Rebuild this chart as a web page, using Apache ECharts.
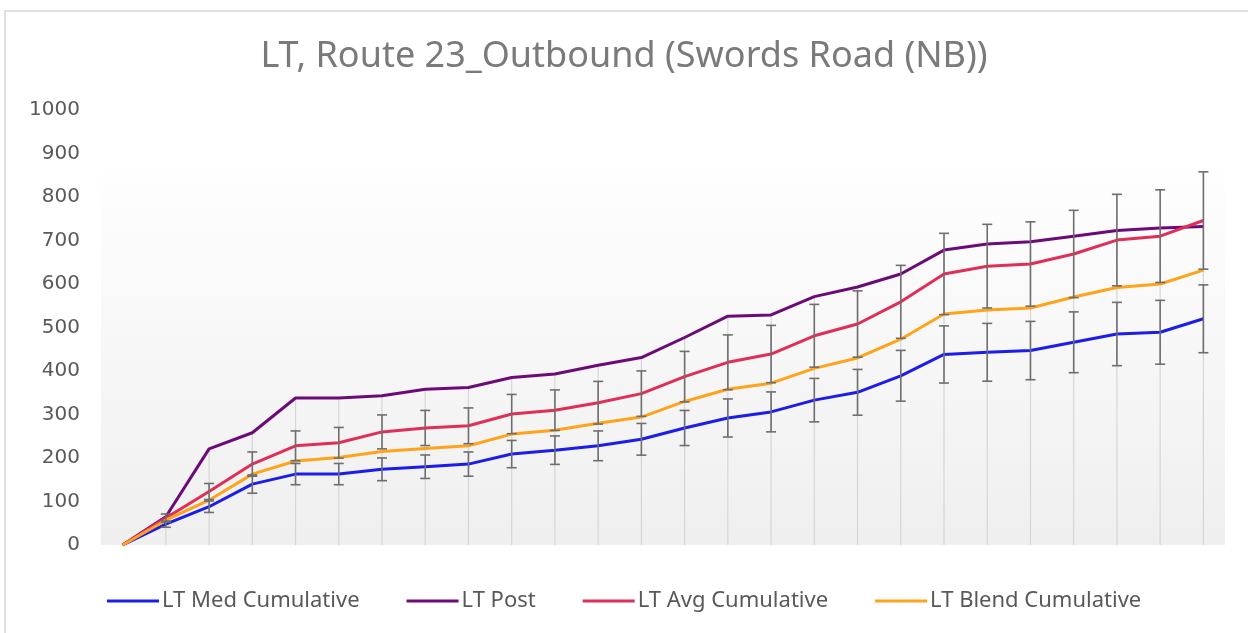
<!DOCTYPE html>
<html>
<head>
<meta charset="utf-8">
<title>LT, Route 23_Outbound</title>
<script src="https://cdn.jsdelivr.net/npm/echarts@6/dist/echarts.min.js"></script>
<style>
    html, body { margin: 0; padding: 0; background: #fff; }
    #chart { width: 1248px; height: 633px; }
</style>
</head>
<body>
<div id="chart"></div>
<script>
// stops along the route (no labels shown on the axis)
var stops = ['1', '2', '3', '4', '5', '6', '7', '8', '9', '10', '11', '12', '13',
    '14', '15', '16', '17', '18', '19', '20', '21', '22', '23', '24', '25', '26'];

var medCum = [0, 48, 88, 140, 163, 163, 174, 180, 186, 209, 218, 228, 243,
    269, 292, 306, 333, 351, 389, 438, 443, 447, 466, 485, 489, 520];
var ltPost = [0, 65, 221, 258, 338, 338, 343, 358, 362, 385, 393, 413, 431,
    477, 526, 529, 571, 593, 623, 678, 692, 697, 710, 723, 729, 732];
var avgCum = [0, 62, 123, 186, 228, 235, 260, 269, 274, 301, 310, 327, 348,
    387, 420, 439, 481, 508, 559, 623, 641, 646, 669, 701, 710, 746];
var blendCum = [0, 57, 103, 163, 193, 201, 215, 222, 228, 255, 264, 280, 294,
    330, 358, 372, 406, 430, 473, 531, 540, 545, 570, 592, 600, 632];

var yTicks = { min: 0, max: 1000, step: 100 };
// excel style percentage error bars on the Med and Avg series
var errPct = 0.15;

var chart = echarts.init(document.getElementById('chart'));

function errData(arr) {
    var out = [];
    for (var i = 0; i < arr.length; i++) {
        if (arr[i] > 0) {
            out.push([i, arr[i] * (1 - errPct), arr[i] * (1 + errPct)]);
        }
    }
    return out;
}

// drop lines go from the highest series value down to the axis
var dropData = [];
for (var i = 0; i < stops.length; i++) {
    dropData.push([i, Math.max(medCum[i], ltPost[i], avgCum[i], blendCum[i])]);
}

function renderErr(params, api) {
    var x = api.value(0);
    var lo = api.coord([x, api.value(1)]);
    var hi = api.coord([x, api.value(2)]);
    var w = 5;
    var st = { stroke: '#6e6e6e', lineWidth: 1.6 };
    return {
        type: 'group',
        children: [
            { type: 'line', shape: { x1: hi[0], y1: hi[1], x2: lo[0], y2: lo[1] }, style: st },
            { type: 'line', shape: { x1: hi[0] - w, y1: hi[1], x2: hi[0] + w, y2: hi[1] }, style: st },
            { type: 'line', shape: { x1: lo[0] - w, y1: lo[1], x2: lo[0] + w, y2: lo[1] }, style: st }
        ]
    };
}

function renderDrop(params, api) {
    var x = api.value(0);
    var top = api.coord([x, api.value(1)]);
    var bot = api.coord([x, 0]);
    return {
        type: 'line',
        shape: { x1: top[0], y1: top[1], x2: bot[0], y2: bot[1] },
        style: { stroke: '#d6d6d6', lineWidth: 1.2 }
    };
}

function lineSeries(name, data, color) {
    return {
        name: name,
        type: 'line',
        data: data,
        symbol: 'none',
        z: 3,
        lineStyle: { color: color, width: 3 },
        itemStyle: { color: color }
    };
}

var option = {
    animation: false,
    backgroundColor: '#ffffff',
    title: {
        text: 'LT, Route 23_Outbound (Swords Road (NB))',
        left: 'center',
        top: 34,
        textStyle: {
            fontFamily: 'Noto Sans',
            fontSize: 36,
            fontWeight: 'normal',
            color: '#7a7a7a'
        }
    },
    legend: {
        data: ['LT Med Cumulative', 'LT Post', 'LT Avg Cumulative', 'LT Blend Cumulative'],
        left: 102,
        top: 585,
        icon: 'rect',
        itemWidth: 52,
        itemHeight: 3,
        itemGap: 47,
        textStyle: {
            fontFamily: 'Noto Sans',
            fontSize: 22,
            color: '#595959',
            padding: [0, 0, 0, -2]
        }
    },
    grid: {
        left: 101,
        right: 23,
        top: 110,
        bottom: 88,
        show: true,
        borderWidth: 0,
        backgroundColor: new echarts.graphic.LinearGradient(0, 0, 0, 1, [
            { offset: 0, color: '#ffffff' },
            { offset: 0.1, color: '#ffffff' },
            { offset: 1, color: '#efefef' }
        ])
    },
    xAxis: {
        type: 'category',
        data: stops,
        boundaryGap: true,
        axisLine: { show: false },
        axisTick: { show: false },
        axisLabel: { show: false },
        splitLine: { show: false }
    },
    yAxis: {
        type: 'value',
        min: yTicks.min,
        max: yTicks.max,
        interval: yTicks.step,
        axisLine: { show: false },
        axisTick: { show: false },
        splitLine: { show: false },
        axisLabel: {
            margin: 21,
            fontFamily: 'DejaVu Sans',
            fontSize: 20,
            color: '#595959',
            formatter: function(v) { return String(v); }
        }
    },
    graphic: [
        { type: 'line', shape: { x1: 4, y1: 11, x2: 1248, y2: 11 }, style: { stroke: '#e0e0e0', lineWidth: 2 } },
        { type: 'line', shape: { x1: 5, y1: 10, x2: 5, y2: 633 }, style: { stroke: '#e0e0e0', lineWidth: 2 } }
    ],
    series: [
        {
            type: 'custom',
            name: 'drop',
            renderItem: renderDrop,
            data: dropData,
            z: 1,
            silent: true
        },
        lineSeries('LT Med Cumulative', medCum, '#1c1ceb'),
        lineSeries('LT Post', ltPost, '#6c0a78'),
        lineSeries('LT Avg Cumulative', avgCum, '#e02e58'),
        lineSeries('LT Blend Cumulative', blendCum, '#ffa31a'),
        {
            type: 'custom',
            name: 'errMed',
            renderItem: renderErr,
            data: errData(medCum),
            z: 4,
            silent: true
        },
        {
            type: 'custom',
            name: 'errAvg',
            renderItem: renderErr,
            data: errData(avgCum),
            z: 4,
            silent: true
        }
    ]
};

chart.setOption(option);
</script>
</body>
</html>
